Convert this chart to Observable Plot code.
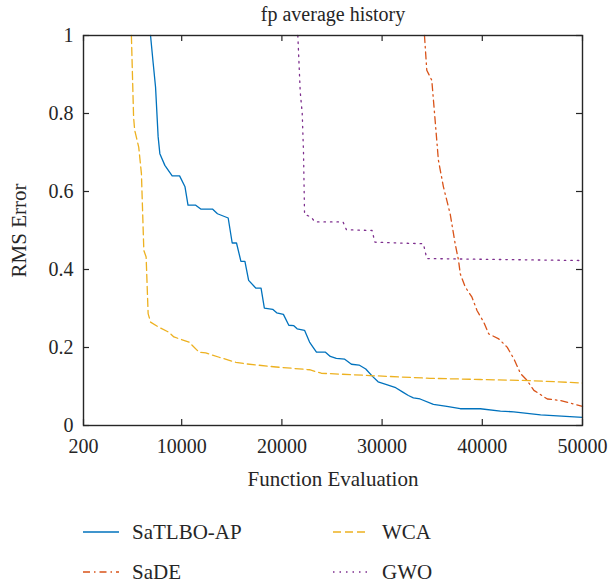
<!DOCTYPE html>
<html><head><meta charset="utf-8">
<script src="https://cdn.jsdelivr.net/npm/d3@7"></script>
<script src="https://cdn.jsdelivr.net/npm/@observablehq/plot@0.6"></script>
<style>
body{margin:0;background:#fff;font-family:"Liberation Serif","Times New Roman",serif;}
#wrap{width:608px;}
.legend{position:relative;width:608px;height:86px;}
.item{position:absolute;height:24px;display:flex;align-items:center;font-size:21px;color:#262626;}
.item svg{margin-right:13px;}
</style></head><body><div id="wrap"></div>
<script>
const titleText = "fp average history";
const xLabel = "Function Evaluation";
const yLabel = "RMS Error";
const xTicks = [200, 10000, 20000, 30000, 40000, 50000];
const yTicks = [0, 0.2, 0.4, 0.6, 0.8, 1];
const seriesNames = ["SaTLBO-AP", "SaDE", "WCA", "GWO"];
const seriesColors = ["#0072BD", "#D95319", "#EDB120", "#7E2F8E"];
const seriesDash = [null, "7,4,1.5,4", "8,4", "1.5,5"];

const satlboX = [6890,7150,7390,7650,7820,8320,9050,9790,10330,10630,11400,11900,13070,13570,14640,15040,15470,15910,16310,16680,17410,17920,18250,19080,19480,20150,20690,21190,21520,22260,22760,23100,23450,24350,24830,25430,26270,26940,27700,28370,29040,29600,30450,31280,32110,32620,33120,33790,35120,36460,37800,39800,41810,43140,45820,50000];
const satlboY = [1.0,0.93,0.868,0.74,0.697,0.667,0.640,0.640,0.612,0.565,0.565,0.555,0.555,0.543,0.532,0.468,0.468,0.421,0.421,0.372,0.352,0.352,0.301,0.298,0.289,0.285,0.257,0.256,0.248,0.244,0.214,0.201,0.188,0.188,0.177,0.172,0.170,0.157,0.155,0.145,0.126,0.112,0.105,0.098,0.085,0.077,0.071,0.068,0.054,0.049,0.043,0.043,0.037,0.035,0.027,0.021];

const sadeX = [34230,34460,34960,35290,35620,36120,36790,37300,37630,37800,38300,38970,39470,40140,40640,41640,42480,43150,43820,44490,45150,46490,47820,48830,50000];
const sadeY = [1.0,0.911,0.885,0.783,0.680,0.612,0.543,0.465,0.423,0.389,0.355,0.329,0.295,0.265,0.235,0.222,0.201,0.171,0.133,0.115,0.090,0.068,0.064,0.057,0.049];

const wcaX = [4980,5200,5310,5710,5980,6220,6450,6650,6890,7720,8720,9220,10730,11730,12400,13740,15410,16410,19420,22760,23930,28780,34790,39800,44820,50000];
const wcaY = [1.0,0.79,0.757,0.714,0.646,0.449,0.432,0.287,0.265,0.252,0.239,0.227,0.214,0.188,0.186,0.175,0.162,0.158,0.150,0.143,0.134,0.128,0.121,0.118,0.115,0.109];

const gwoX = [21590,21830,22030,22160,22260,22900,23300,26100,26440,29000,29280,34120,34460,50000];
const gwoY = [1.0,0.855,0.80,0.697,0.541,0.535,0.522,0.522,0.502,0.500,0.470,0.466,0.428,0.423];

const toPts = (xs, ys) => xs.map((x, i) => ({x, y: ys[i]}));
const series = [toPts(satlboX, satlboY), toPts(sadeX, sadeY), toPts(wcaX, wcaY), toPts(gwoX, gwoY)];

const W = 608, H = 500, mL = 83, mR = 26, mT = 35, mB = 75;
const innerW = W - mL - mR, innerH = H - mT - mB;
const ink = "#262626";
const fmt = d => String(d);

const lineMarks = series.map((data, i) => Plot.line(data, {
  x: "x", y: "y", stroke: seriesColors[i], strokeWidth: 1.3,
  strokeDasharray: seriesDash[i] || undefined
}));

const plot = Plot.plot({
  width: W, height: H,
  marginLeft: mL, marginRight: mR, marginTop: mT, marginBottom: mB,
  style: {fontFamily: "'Liberation Serif', 'Times New Roman', serif", fontSize: "20px", color: ink, background: "#fff"},
  x: {domain: [200, 50000]},
  y: {domain: [0, 1]},
  marks: [
    ...lineMarks,
    Plot.frame({stroke: ink, strokeWidth: 1.4}),
    Plot.tickX(xTicks, {x: d => d, insetTop: innerH - 6, stroke: ink, strokeWidth: 1.2}),
    Plot.tickX(xTicks, {x: d => d, insetBottom: innerH - 6, stroke: ink, strokeWidth: 1.2}),
    Plot.tickY(yTicks, {y: d => d, insetRight: innerW - 6, stroke: ink, strokeWidth: 1.2}),
    Plot.tickY(yTicks, {y: d => d, insetLeft: innerW - 6, stroke: ink, strokeWidth: 1.2}),
    Plot.axisX(xTicks, {tickSize: 0, tickPadding: 13, tickFormat: fmt, label: null, fill: ink, fontSize: 20}),
    Plot.axisY(yTicks, {tickSize: 0, tickPadding: 10, tickFormat: fmt, label: null, fill: ink, fontSize: 20}),
    Plot.text([titleText], {frameAnchor: "top", dy: -21, lineAnchor: "middle", textAnchor: "middle", fontSize: 20, fill: ink}),
    Plot.text([xLabel], {frameAnchor: "bottom", dy: 54, lineAnchor: "middle", textAnchor: "middle", fontSize: 21, fill: ink}),
    Plot.text([yLabel], {frameAnchor: "left", dx: -64, rotate: -90, lineAnchor: "middle", textAnchor: "middle", fontSize: 21, fill: ink})
  ]
});
const wrap = document.getElementById("wrap");
wrap.appendChild(plot);

const legend = document.createElement("div");
legend.className = "legend";
const pos = [[83, 20], [83, 60], [333, 20], [333, 60]];
seriesNames.forEach((name, i) => {
  const item = document.createElement("div");
  item.className = "item";
  item.style.left = pos[i][0] + "px";
  item.style.top = pos[i][1] + "px";
  const ns = "http://www.w3.org/2000/svg";
  const svg = document.createElementNS(ns, "svg");
  svg.setAttribute("width", 36); svg.setAttribute("height", 10);
  const ln = document.createElementNS(ns, "line");
  ln.setAttribute("x1", 0); ln.setAttribute("x2", 36);
  ln.setAttribute("y1", 5); ln.setAttribute("y2", 5);
  ln.setAttribute("stroke", seriesColors[i]);
  ln.setAttribute("stroke-width", 1.3);
  if (seriesDash[i]) ln.setAttribute("stroke-dasharray", seriesDash[i]);
  svg.appendChild(ln);
  item.appendChild(svg);
  const t = document.createElement("span");
  t.textContent = name;
  item.appendChild(t);
  legend.appendChild(item);
});
wrap.appendChild(legend);
</script></body></html>
